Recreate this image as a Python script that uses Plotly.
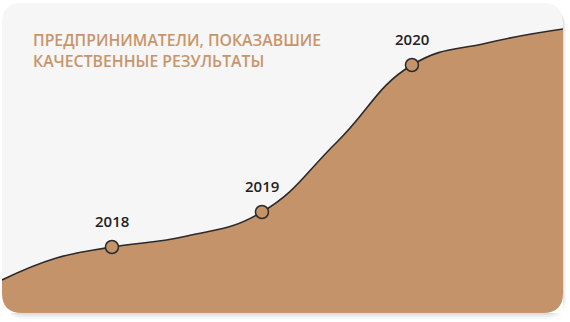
import plotly.graph_objects as go

# Data (x in years, y in arbitrary units)
curve_x = [2017.267, 2017.63, 2018.0, 2018.5, 2019.0, 2019.5, 2020.0, 2020.5, 2021.007]
curve_y = [33, 55, 66, 77, 101, 171, 248, 270, 284]
years = [2018, 2019, 2020]
year_values = [66, 101, 248]
year_labels = ["2018", "2019", "2020"]
title_lines = ["ПРЕДПРИНИМАТЕЛИ, ПОКАЗАВШИЕ", "КАЧЕСТВЕННЫЕ РЕЗУЛЬТАТЫ"]

TAN = "#C4936A"
LINE = "#2a2a2a"
CARD = "#F6F6F6"

W, H = 570, 322
L, R, T, B = 2, 7, 3, 9
PW, PH = W - L - R, H - T - B


def px_x(px):
    return (px - L) / PW


def px_y(py):
    return (H - B - py) / PH


def rrect(x0, y0, x1, y1, r):
    ax0, ax1 = px_x(x0), px_x(x1)
    ay0, ay1 = px_y(y0), px_y(y1)
    rx, ry = r / PW, r / PH
    return (f"M {ax0+rx},{ay0} L {ax1-rx},{ay0} Q {ax1},{ay0} {ax1},{ay0-ry} "
            f"L {ax1},{ay1+ry} Q {ax1},{ay1} {ax1-rx},{ay1} "
            f"L {ax0+rx},{ay1} Q {ax0},{ay1} {ax0},{ay1+ry} "
            f"L {ax0},{ay0-ry} Q {ax0},{ay0} {ax0+rx},{ay0} Z")


fig = go.Figure()
fig.add_trace(go.Scatter(
    x=curve_x, y=curve_y, mode="lines", line=dict(color=LINE, width=1.6, shape="spline", smoothing=1.3),
    fill="tozeroy", fillcolor=TAN, hoverinfo="skip", showlegend=False))
fig.add_trace(go.Scatter(
    x=years, y=year_values, mode="markers",
    marker=dict(size=13, color=TAN, line=dict(color=LINE, width=1.5)),
    hoverinfo="skip", showlegend=False))

annotations = []
for xv, yv, lab in zip(years, year_values, year_labels):
    annotations.append(dict(x=xv, y=yv, text=lab, showarrow=False, yshift=26,
                            font=dict(family="Open Sans", size=15, color="#222222", weight=600),
                            xanchor="center", yanchor="middle"))
annotations.append(dict(x=px_x(31), y=px_y(51), xref="paper", yref="paper",
                        text="<br>".join(title_lines), showarrow=False, xanchor="left", yanchor="middle",
                        align="left",
                        font=dict(family="Open Sans", size=15.8, color="#C8956B", weight=600)))

shapes = []
for off, alpha in [(6, 0.03), (4, 0.04), (2, 0.06)]:
    shapes.append(dict(type="path", path=rrect(2 + off / 2, 3 + off, 563 + off / 2, 313 + off, 20),
                       xref="paper", yref="paper", fillcolor=f"rgba(0,0,0,{alpha})",
                       line=dict(width=0), layer="below"))
shapes.append(dict(type="path", path=rrect(2, 3, 563, 313, 20), xref="paper", yref="paper",
                   fillcolor=CARD, line=dict(width=0), layer="below"))
rx, ry = 20 / PW, 20 / PH
shapes.append(dict(type="path", path=f"M 0,0 L 0,{ry} Q 0,0 {rx},0 Z", xref="paper", yref="paper",
                   fillcolor="#FFFFFF", line=dict(width=0), layer="above"))
shapes.append(dict(type="path", path=f"M 1,0 L 1,{ry} Q 1,0 {1-rx},0 Z", xref="paper", yref="paper",
                   fillcolor="#FFFFFF", line=dict(width=0), layer="above"))

fig.update_layout(
    width=W, height=H, margin=dict(l=L, r=R, t=T, b=B),
    paper_bgcolor="#FFFFFF", plot_bgcolor="rgba(0,0,0,0)",
    xaxis=dict(range=[curve_x[0], curve_x[-1]], visible=False, fixedrange=True),
    yaxis=dict(range=[0, PH], visible=False, fixedrange=True),
    shapes=shapes, annotations=annotations, showlegend=False,
)
fig.write_html("out.html")
